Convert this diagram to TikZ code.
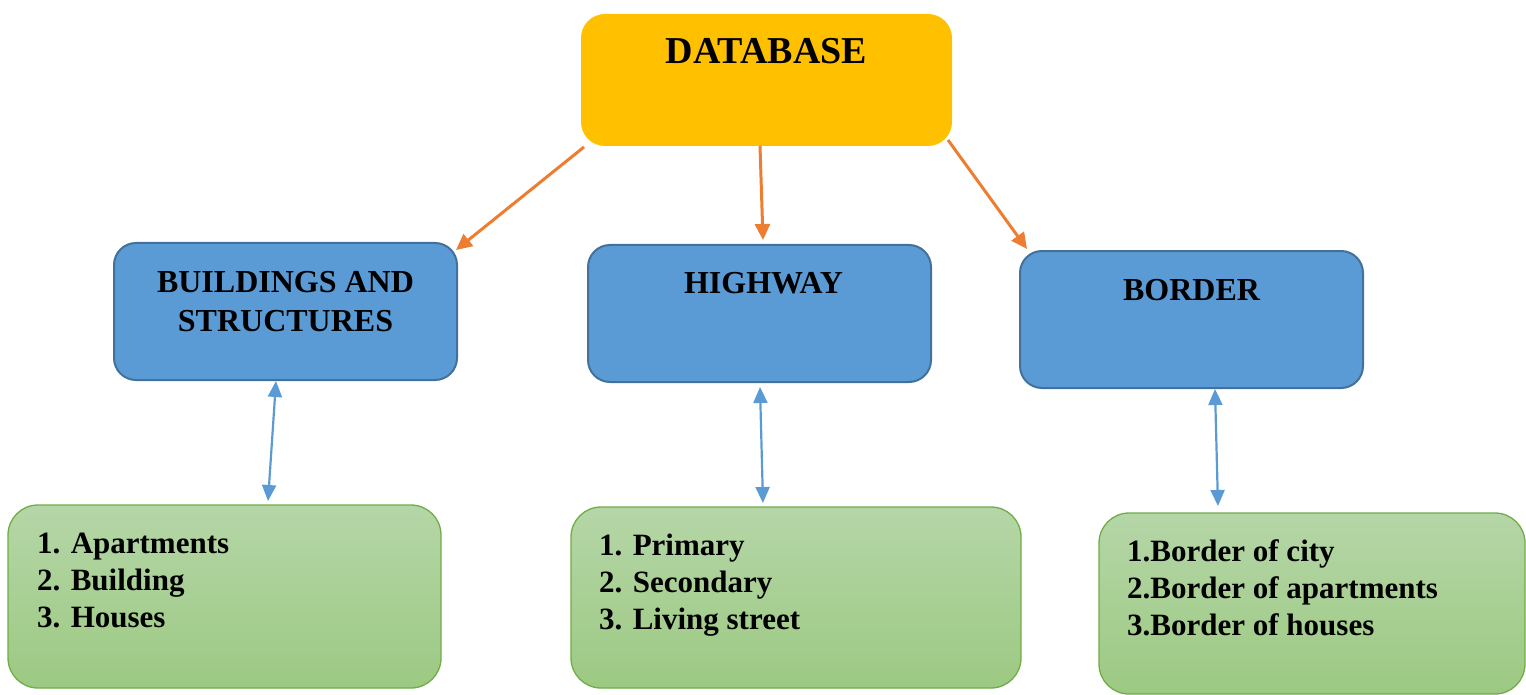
\documentclass[tikz,border=0pt]{standalone}
\usepackage{fontspec}
\setmainfont{Liberation Serif}
\usetikzlibrary{arrows.meta}
\definecolor{dbfill}{HTML}{FFC000}
\definecolor{bluefill}{HTML}{5B9BD5}
\definecolor{blueline}{HTML}{41719C}
\definecolor{gtop}{HTML}{B5D6A7}
\definecolor{gbot}{HTML}{9CC982}
\definecolor{gline}{HTML}{70AD47}
\definecolor{orangeline}{HTML}{ED7D31}
\definecolor{bluearrow}{HTML}{5B9BD5}
\begin{document}
\begin{tikzpicture}[x=1pt,y=-1pt,
  dbbox/.style={fill=dbfill, rounded corners=24pt, inner sep=0pt, minimum width=371pt, minimum height=132pt},
  catbox/.style={fill=bluefill, draw=blueline, line width=2pt, rounded corners=22pt, inner sep=0pt, minimum width=343pt, minimum height=137pt},
  listbox/.style={top color=gtop, bottom color=gbot, draw=gline, line width=1.3pt, rounded corners=30pt, inner sep=0pt, minimum height=181pt},
  dbtext/.style={font=\fontsize{38}{44}\selectfont\bfseries, inner sep=0pt, anchor=base},
  cattext/.style={font=\fontsize{32}{39}\selectfont\bfseries, inner sep=0pt, align=center, anchor=base},
  listtext/.style={font=\fontsize{31}{37}\selectfont\bfseries, inner sep=0pt, align=left, anchor=base west},
  oarrow/.style={draw=orangeline, line width=3pt, -{Triangle[length=16pt,width=15pt]}},
  barrow/.style={draw=bluearrow, line width=2.2pt, {Triangle[length=16pt,width=14pt]}-{Triangle[length=16pt,width=14pt]}},
]
\useasboundingbox (0,0) rectangle (1526,695);

% boxes
\node[dbbox] (db) at (766.5,80) {};
\node[catbox] (bld) at (285.5,311.5) {};
\node[catbox] (hwy) at (759.5,313.5) {};
\node[catbox] (brd) at (1191.5,319.5) {};
\node[listbox, minimum width=433pt, minimum height=183pt] (gl) at (224.5,596.5) {};
\node[listbox, minimum width=450pt] (gm) at (796,597.5) {};
\node[listbox, minimum width=426pt] (gr) at (1312,603.5) {};

% texts (anchor base = baseline of the last line)
\node[dbtext] (dbt) at (766.5,64) {DATABASE};
\node[cattext] (bldt) at (285.5,331) {BUILDINGS AND\\STRUCTURES};
\node[cattext] (hwyt) at (763.5,293) {HIGHWAY};
\node[cattext] (brdt) at (1191.5,300) {BORDER};
\node[listtext] (glt) at (37,627) {1. Apartments\\2. Building\\3. Houses};
\node[listtext] (gmt) at (599,629) {1. Primary\\2. Secondary\\3. Living street};
\node[listtext] (grt) at (1127,635.5) {1.Border of city\\2.Border of apartments\\3.Border of houses};

% connector ends
\coordinate (o1s) at (584,147);
\coordinate (o1e) at (456,250);
\coordinate (o2s) at (760,146);
\coordinate (o2e) at (763,240);
\coordinate (o3s) at (948,140);
\coordinate (o3e) at (1027,249);
\coordinate (b1s) at (276,381);
\coordinate (b1e) at (268,501);
\coordinate (b2s) at (760,387);
\coordinate (b2e) at (763,503);
\coordinate (b3s) at (1215,389);
\coordinate (b3e) at (1218,506);

\draw[oarrow] (o1s) -- (o1e);
\draw[oarrow] (o2s) -- (o2e);
\draw[oarrow] (o3s) -- (o3e);
\draw[barrow] (b1s) -- (b1e);
\draw[barrow] (b2s) -- (b2e);
\draw[barrow] (b3s) -- (b3e);
\end{tikzpicture}
\end{document}
